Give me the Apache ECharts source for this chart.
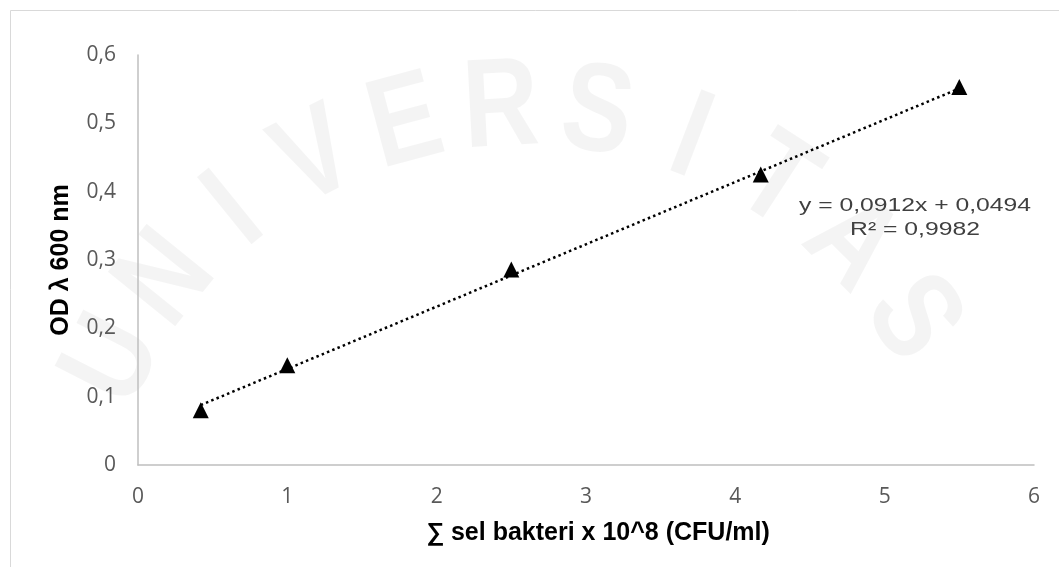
<!DOCTYPE html>
<html>
<head>
<meta charset="utf-8">
<script src="https://cdn.jsdelivr.net/npm/echarts@6/dist/echarts.min.js"></script>
<style>
  html, body { margin: 0; padding: 0; background: #ffffff; }
  #chart { width: 1059px; height: 567px; }
</style>
</head>
<body>
<div id="chart"></div>
<script>
// Standard curve: cell count (x 10^8 CFU/ml) vs optical density at 600 nm
const cellCount = [0.42, 1.0, 2.5, 4.17, 5.5];
const opticalDensity = [0.080, 0.146, 0.286, 0.425, 0.553];

// Linear trendline as reported on the chart
const slope = 0.0912;
const intercept = 0.0494;
const rSquared = 0.9982;

const xTicks = [0, 1, 2, 3, 4, 5, 6];
const yTicks = [0, 0.1, 0.2, 0.3, 0.4, 0.5, 0.6];

// Faint background stamp, letters laid out along an arch
const stampText = 'UNIVERSITAS';

const comma = (v, d) => v.toFixed(d).replace('.', ',');

const points = cellCount.map((x, i) => [x, opticalDensity[i]]);
const xMin = Math.min(...cellCount);
const xMax = Math.max(...cellCount);
const trend = [[xMin, slope * xMin + intercept], [xMax, slope * xMax + intercept]];

const tickFont = 'Open Sans, Lato, sans-serif';

const stamp = stampText.split('').map((ch, i) => {
  const a = (-63 + i * 12) * Math.PI / 180;
  return {
    type: 'text', silent: true, z: -2,
    x: 525 + 460 * Math.sin(a), y: 570 - 460 * Math.cos(a),
    rotation: -a, scaleY: 1.2,
    style: { text: ch, font: 'bold 105px Arial, Liberation Sans, sans-serif', fill: 'rgba(0,0,0,0.045)', textAlign: 'center', textVerticalAlign: 'middle' }
  };
});

const chart = echarts.init(document.getElementById('chart'));
chart.setOption({
  backgroundColor: '#ffffff',
  animation: false,
  grid: { left: 138, right: 25, top: 55, bottom: 102 },
  xAxis: {
    type: 'value',
    min: xTicks[0], max: xTicks[xTicks.length - 1], interval: 1,
    name: '∑ sel bakteri x 10^8 (CFU/ml)',
    nameLocation: 'middle', nameGap: 56, nameMoveOverlap: false,
    nameTextStyle: { fontFamily: 'Arial, Liberation Sans, sans-serif', fontWeight: 'bold', fontSize: 25, color: '#000', padding: [0, 0, 0, 24] },
    axisLine: { show: true, lineStyle: { color: '#bfbfbf', width: 1.5 } },
    axisTick: { show: false },
    splitLine: { show: false },
    axisLabel: { margin: 22, color: '#595959', fontSize: 21, fontFamily: tickFont, formatter: v => String(v) }
  },
  yAxis: {
    type: 'value',
    min: yTicks[0], max: yTicks[yTicks.length - 1], interval: 0.1,
    name: 'OD λ 600 nm',
    nameLocation: 'middle', nameGap: 64, nameMoveOverlap: false,
    nameTextStyle: { fontFamily: 'Arial, Liberation Sans, sans-serif', fontWeight: 'bold', fontSize: 25, color: '#000' },
    axisLine: { show: true, lineStyle: { color: '#bfbfbf', width: 1.5 } },
    axisTick: { show: false },
    splitLine: { show: false },
    axisLabel: { margin: 22, color: '#595959', fontSize: 21, fontFamily: tickFont, formatter: v => v === 0 ? '0' : comma(v, 1) }
  },
  graphic: stamp.concat([
    { type: 'rect', shape: { x: 10.5, y: 10.5, width: 1100, height: 600 }, style: { fill: 'none', stroke: '#d9d9d9', lineWidth: 1 }, silent: true, z: -1 },
    { type: 'text', x: 915, y: 206, scaleX: 1.3, style: { text: 'y = ' + comma(slope, 4) + 'x + ' + comma(intercept, 4), font: '19px Arial, Liberation Sans, sans-serif', fill: '#404040', textAlign: 'center', textVerticalAlign: 'middle' } },
    { type: 'text', x: 915, y: 230, scaleX: 1.3, style: { text: 'R² = ' + comma(rSquared, 4), font: '19px Arial, Liberation Sans, sans-serif', fill: '#404040', textAlign: 'center', textVerticalAlign: 'middle' } }
  ]),
  series: [
    {
      type: 'line',
      data: trend,
      showSymbol: false,
      lineStyle: { color: '#000', width: 2.5, type: [2.5, 3.2] },
      z: 2
    },
    {
      type: 'scatter',
      data: points,
      symbol: 'triangle',
      symbolSize: [16, 16],
      itemStyle: { color: '#000', opacity: 1 },
      z: 3
    }
  ]
});
</script>
</body>
</html>
